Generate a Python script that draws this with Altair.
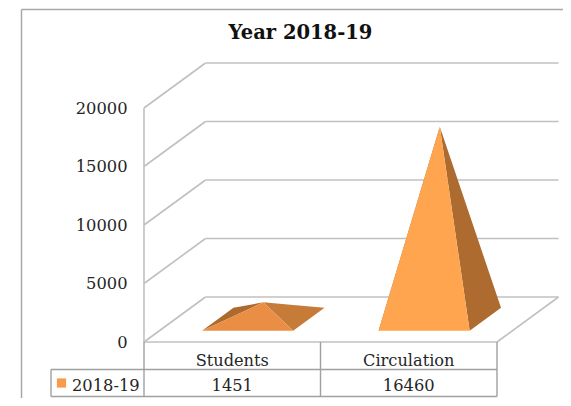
import altair as alt
import pandas as pd

TITLE = "Year 2018-19"
SERIES = "2018-19"
categories = ["Students", "Circulation"]
values = [1451, 16460]
ticks = [0, 5000, 10000, 15000, 20000]

# colours per pyramid: left, right, front
shades = [["#AC6A2E", "#C67C38", "#EB8E45"], ["#AD6B2F", "#AD6B2F", "#FFA54F"]]
SWATCH = "#F79B4C"
GRID = "#C0C0C0"
FRAME = "#A8A8A8"
TEXT = "#262626"
FONT = "DejaVu Serif"

# plot-box geometry (pixels in the page): front-left corner of the 3-D floor
PX0, PY0, SLOT, PLOT_H = 144.0, 342.0, 176.5, 234.0
YMAX = ticks[-1]
K = PLOT_H / YMAX
DEPTH_X = 61.5 / SLOT          # oblique depth, in category units
DEPTH_Y = 45.0 / K             # oblique depth, in value units
F, B = 0.25, 0.76              # front and back of a pyramid base along depth
HALF = 0.258                   # half base width, category units


def page_x(px):
    return (px - PX0) / SLOT


def page_y(py):
    return (PY0 - py) / K


def project(c, v, d):
    return (c + d * DEPTH_X, v + d * DEPTH_Y)


def triangle(p, q, r):
    a, b, c = sorted([p, q, r])
    t = (b[0] - a[0]) / (c[0] - a[0])
    mid = a[1] + t * (c[1] - a[1])
    return pd.DataFrame(
        {"x": [a[0], b[0], c[0]], "y": [a[1], b[1], c[1]], "y2": [a[1], mid, c[1]]}
    )


xs = alt.Scale(domain=[0, 2], nice=False, zero=False)
ys = alt.Scale(domain=[0, YMAX], nice=False, zero=False)
yaxis = alt.Axis(
    values=ticks,
    title=None,
    domain=False,
    ticks=False,
    grid=False,
    labelPadding=17,
    labelFont=FONT,
    labelFontSize=16.3,
    labelColor=TEXT,
    format="d",
)
X = alt.X("x:Q", scale=xs, axis=None)
Y = alt.Y("y:Q", scale=ys, axis=yaxis)


def rules(segs, color, width):
    df = pd.DataFrame(segs, columns=["x", "y", "x2", "y2"])
    return alt.Chart(df).mark_rule(color=color, strokeWidth=width).encode(x=X, y=Y, x2="x2:Q", y2="y2:Q")


def label(df, size, weight="normal", align="center", color=TEXT):
    return (
        alt.Chart(df)
        .mark_text(font=FONT, fontSize=size, fontWeight=weight, color=color, align=align, baseline="alphabetic")
        .encode(x=X, y=Y, text="t:N")
    )


# walls and floor
grid = []
for t in ticks:
    grid.append([0, t, DEPTH_X, t + DEPTH_Y])
    grid.append([DEPTH_X, t + DEPTH_Y, 2 + DEPTH_X, t + DEPTH_Y])
grid.append([0, 0, 0, YMAX])                       # left wall front edge
grid.append([0, 0, 2, 0])                          # floor front edge
grid.append([2, 0, 2 + DEPTH_X, DEPTH_Y])          # floor right edge
walls = rules(grid, GRID, 1.6)

# outer chart frame (open on the right and at the bottom)
frame = rules(
    [
        [page_x(21.5), page_y(9.5), page_x(571), page_y(9.5)],
        [page_x(21.5), page_y(9.5), page_x(21.5), page_y(406)],
    ],
    FRAME,
    1.5,
)

# data table
R1, R2 = page_y(369.5), page_y(396.5)
XL = page_x(51)
table = rules(
    [
        [0, 0, 0, R2],
        [1, 0, 1, R2],
        [2, 0, 2, R2],
        [XL, R1, 2, R1],
        [XL, R2, 2, R2],
        [XL, R1, XL, R2],
    ],
    "#A0A0A0",
    1.4,
)

# pyramids
faces = []
for i, v in enumerate(values):
    c = i + 0.5
    fl = project(c - HALF, 0, F)
    fr = project(c + HALF, 0, F)
    bl = project(c - HALF, 0, B)
    br = project(c + HALF, 0, B)
    apex = project(c, v, (F + B) / 2)
    for tri, col in zip([(fl, bl, apex), (fr, br, apex), (fl, fr, apex)], shades[i]):
        faces.append(
            alt.Chart(triangle(*tri))
            .mark_area(color=col, line=False, interpolate="linear")
            .encode(x=X, y=alt.Y("y:Q", scale=ys, axis=yaxis, stack=None), y2="y2:Q")
        )

cats = label(
    pd.DataFrame({"x": [i + 0.5 for i in range(2)], "y": page_y(365.5), "t": categories}), 16.2
)
vals = label(
    pd.DataFrame({"x": [i + 0.5 for i in range(2)], "y": page_y(390.5), "t": [str(v) for v in values]}), 16.3
)
ser = label(pd.DataFrame({"x": [page_x(72)], "y": [page_y(390.5)], "t": [SERIES]}), 16.3, align="left")
swatch = (
    alt.Chart(pd.DataFrame({"x": [page_x(61.5)], "y": [page_y(383)]}))
    .mark_square(color=SWATCH, size=85, opacity=1)
    .encode(x=X, y=Y)
)
heading = label(
    pd.DataFrame({"x": [page_x(300.5)], "y": [page_y(39)], "t": [TITLE]}), 19.5, weight="bold", color="#111111"
)

chart = (
    alt.layer(frame, walls, *faces, table, heading, cats, vals, ser, swatch)
    .properties(
        width=2 * SLOT,
        height=PLOT_H,
        padding={"left": PX0 - 8, "top": PY0 - PLOT_H - 8, "right": 555 - (PX0 - 8) - 2 * SLOT, "bottom": 390 - (PY0 - 8)},
        autosize=alt.AutoSizeParams(type="none"),
        background="white",
    )
    .configure_view(stroke=None)
)

chart.save("out.html", embed_options={"renderer": "svg", "actions": False})
